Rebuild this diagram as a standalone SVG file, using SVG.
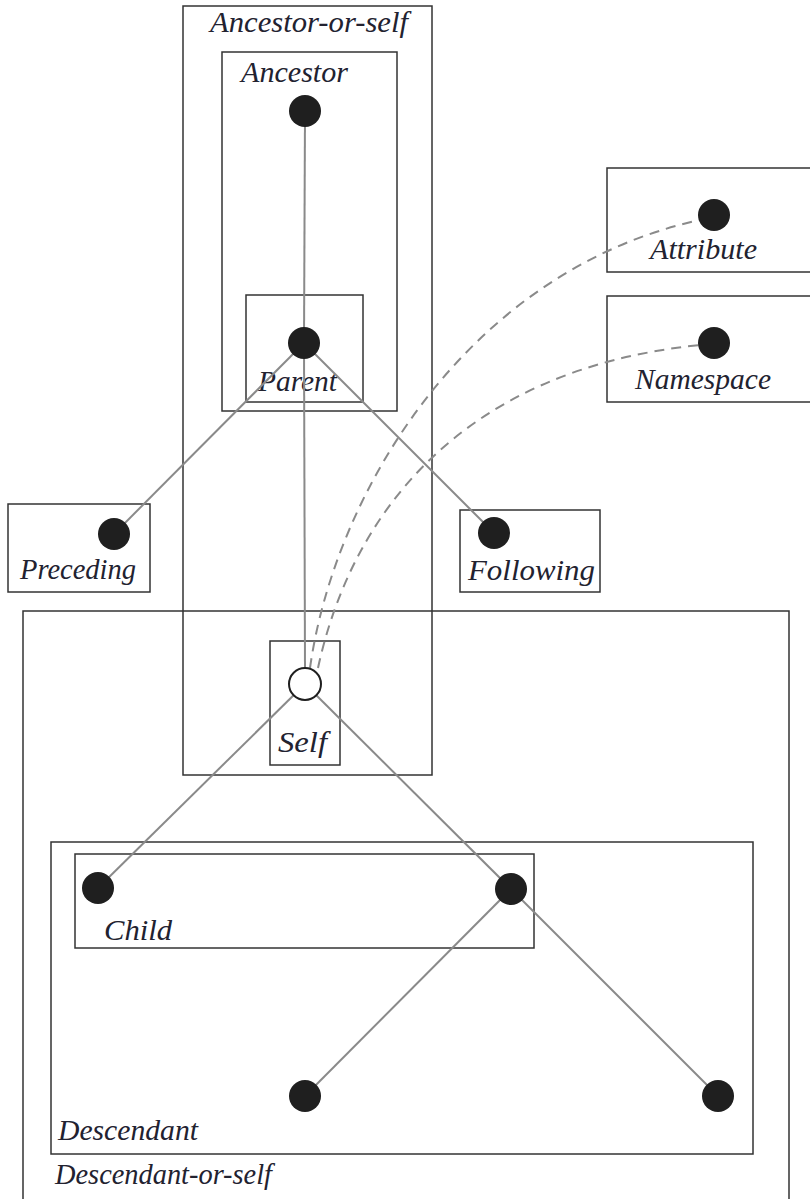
<svg xmlns="http://www.w3.org/2000/svg" width="810" height="1199" viewBox="0 0 810 1199">
<style>
.box{fill:none;stroke:#333;stroke-width:1.5}
.lbl{font-family:"Liberation Serif","Times New Roman",serif;font-style:italic;font-size:29px;fill:#222230}
.edge{stroke:#8a8a8a;stroke-width:2;fill:none}
.dash{stroke:#8a8a8a;stroke-width:2;fill:none;stroke-dasharray:10 7}
.dot{fill:#1f1f1f}
.open{fill:#fff;stroke:#1f1f1f;stroke-width:2}
</style>
<rect width="810" height="1199" fill="#fff"/>
<g id="boxes">
<g id="ancestor-or-self"><rect class="box" x="183" y="6" width="249" height="769"/><text class="lbl" x="210" y="32" textLength="198" lengthAdjust="spacingAndGlyphs">Ancestor-or-self</text></g>
<g id="ancestor"><rect class="box" x="222" y="52" width="175" height="359"/><text class="lbl" x="241" y="82" textLength="107" lengthAdjust="spacingAndGlyphs">Ancestor</text></g>
<g id="parent-box"><rect class="box" x="246" y="295" width="117" height="107"/><text class="lbl" x="258" y="391" textLength="79" lengthAdjust="spacingAndGlyphs">Parent</text></g>
<g id="attribute-box"><rect class="box" x="607" y="168" width="210" height="104"/><text class="lbl" x="650" y="259" textLength="107" lengthAdjust="spacingAndGlyphs">Attribute</text></g>
<g id="namespace-box"><rect class="box" x="607" y="296" width="210" height="106"/><text class="lbl" x="635" y="389" textLength="136" lengthAdjust="spacingAndGlyphs">Namespace</text></g>
<g id="preceding-box"><rect class="box" x="8" y="504" width="142" height="88"/><text class="lbl" x="20" y="579" textLength="116" lengthAdjust="spacingAndGlyphs">Preceding</text></g>
<g id="following-box"><rect class="box" x="460" y="510" width="140" height="82"/><text class="lbl" x="468" y="580" textLength="127" lengthAdjust="spacingAndGlyphs">Following</text></g>
<g id="descendant-or-self"><path class="box" d="M23 1199 V611 H789 V1199"/><text class="lbl" x="55" y="1184" textLength="217" lengthAdjust="spacingAndGlyphs">Descendant-or-self</text></g>
<g id="self-box"><rect class="box" x="270" y="641" width="70" height="124"/><text class="lbl" x="278" y="752" textLength="49" lengthAdjust="spacingAndGlyphs">Self</text></g>
<g id="descendant"><rect class="box" x="51" y="842" width="702" height="312"/><text class="lbl" x="58" y="1140" textLength="140" lengthAdjust="spacingAndGlyphs">Descendant</text></g>
<g id="child-box"><rect class="box" x="75" y="854" width="459" height="94"/><text class="lbl" x="104" y="940" textLength="68" lengthAdjust="spacingAndGlyphs">Child</text></g>
</g>
<g id="connectors">
<line class="edge" x1="305" y1="111" x2="304" y2="343"/>
<line class="edge" x1="304" y1="343" x2="305" y2="668"/>
<line class="edge" x1="304" y1="343" x2="114" y2="534"/>
<line class="edge" x1="304" y1="343" x2="494" y2="533"/>
<line class="edge" x1="305" y1="684" x2="98" y2="888"/>
<line class="edge" x1="305" y1="684" x2="511" y2="889"/>
<line class="edge" x1="511" y1="889" x2="305" y2="1096"/>
<line class="edge" x1="511" y1="889" x2="718" y2="1096"/>
<path class="dash" d="M310 668 C335 490 470 270 700 220"/>
<path class="dash" d="M318 668 C350 520 455 370 700 345"/>
</g>
<g id="nodes">
<circle id="n-ancestor" class="dot" cx="305" cy="111" r="16"/>
<circle id="n-parent" class="dot" cx="304" cy="343" r="16"/>
<circle id="n-attribute" class="dot" cx="714" cy="215" r="16"/>
<circle id="n-namespace" class="dot" cx="714" cy="343" r="16"/>
<circle id="n-preceding" class="dot" cx="114" cy="534" r="16"/>
<circle id="n-following" class="dot" cx="494" cy="533" r="16"/>
<circle id="n-self" class="open" cx="305" cy="684" r="16"/>
<circle id="n-child1" class="dot" cx="98" cy="888" r="16"/>
<circle id="n-child2" class="dot" cx="511" cy="889" r="16"/>
<circle id="n-desc1" class="dot" cx="305" cy="1096" r="16"/>
<circle id="n-desc2" class="dot" cx="718" cy="1096" r="16"/>
</g>
</svg>
